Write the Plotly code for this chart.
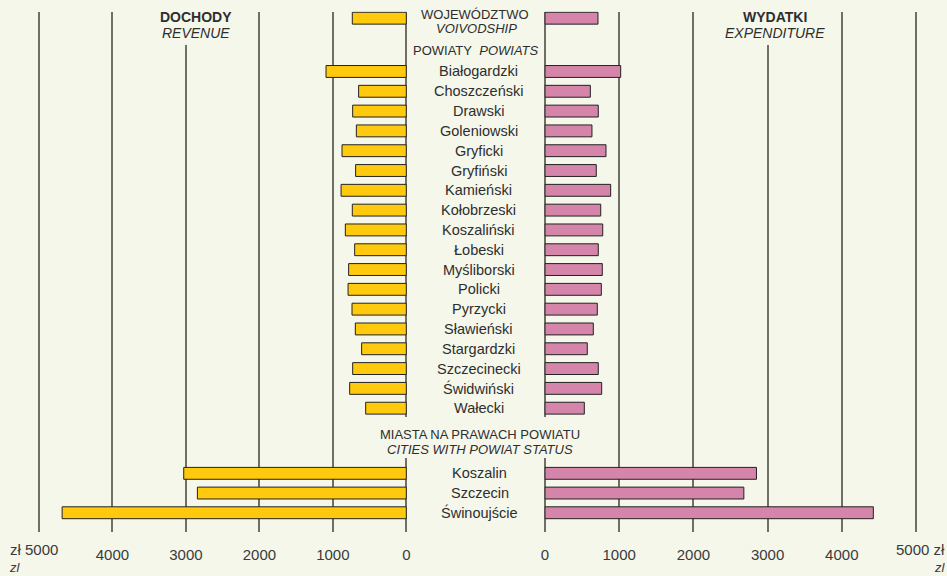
import plotly.graph_objects as go

# ---------------- data ----------------
voivodship_label = ("WOJEWÓDZTWO", "VOIVODSHIP")
voivodship_revenue = 735
voivodship_expenditure = 714

powiats = ["Białogardzki", "Choszczeński", "Drawski", "Goleniowski", "Gryficki",
           "Gryfiński", "Kamieński", "Kołobrzeski", "Koszaliński", "Łobeski",
           "Myśliborski", "Policki", "Pyrzycki", "Sławieński", "Stargardzki",
           "Szczecinecki", "Świdwiński", "Wałecki"]
powiat_revenue = [1093, 649, 730, 680, 875, 690, 888, 735, 830, 703,
                  785, 793, 739, 694, 608, 730, 771, 553]
powiat_expenditure = [1020, 611, 718, 633, 822, 691, 885, 751, 778, 718,
                      772, 759, 705, 651, 570, 718, 764, 530]

cities = ["Koszalin", "Szczecin", "Świnoujście"]
city_revenue = [3030, 2844, 4685]
city_expenditure = [2850, 2680, 4425]

tick_values = [0, 1000, 2000, 3000, 4000, 5000]
tick_text = ["0", "1000", "2000", "3000", "4000", ""]
left_end_label = "zł 5000"
right_end_label = "5000 zł"
unit_note = "zl"

# ---------------- layout helpers (row positions) ----------------
W, H = 947, 576
BG = "#f5f7eb"
GRID = "#6f6f68"
TXT = "#2e2e2e"
TICK_TXT = "#3a3a3a"
FONT = "Liberation Sans, Arial, sans-serif"

voi_pos = 0.0
powiat_header_pos = 1.61
powiat_start = 2.69
powiat_pos = [powiat_start + i for i in range(len(powiats))]
miasta_pos = (21.04, 21.80)
city_start = 22.98
city_pos = [city_start + 0.995 * j for j in range(len(cities))]

y_all = [voi_pos] + powiat_pos + city_pos
rev_all = [voivodship_revenue] + powiat_revenue + city_revenue
exp_all = [voivodship_expenditure] + powiat_expenditure + city_expenditure

# pixel geometry
left_zero_px, left_scale = 406.3, 0.07346   # px per unit
right_zero_px, right_scale = 545.0, 0.0742
pad = 8
left_range = [left_zero_px / left_scale, -pad]
left_domain = [0, (left_zero_px + pad * left_scale) / W]
right_range = [-pad, (W - right_zero_px) / right_scale]
right_domain = [(right_zero_px - pad * right_scale) / W, 1]

plot_top_px, plot_bot_px = 11.5, 531.5
row0_px, pitch = 18.2, 19.806
y_range = [(plot_bot_px - row0_px) / pitch, (plot_top_px - row0_px) / pitch]
y_domain = [1 - plot_bot_px / H, 1 - plot_top_px / H]

fig = go.Figure()
fig.add_trace(go.Bar(
    x=rev_all, y=y_all, orientation="h", width=0.6,
    marker=dict(color="#ffc90d", line=dict(color="#222222", width=1)),
    xaxis="x", yaxis="y", hoverinfo="x", showlegend=False))
fig.add_trace(go.Bar(
    x=exp_all, y=y_all, orientation="h", width=0.6,
    marker=dict(color="#d485a9", line=dict(color="#222222", width=1)),
    xaxis="x2", yaxis="y", hoverinfo="x", showlegend=False))

axis_common = dict(
    tickvals=tick_values, ticktext=tick_text, showgrid=True, gridcolor=GRID,
    gridwidth=1.5, zeroline=True, zerolinecolor=GRID, zerolinewidth=1.5,
    showline=False, ticks="outside", ticklen=9, tickcolor="rgba(0,0,0,0)",
    automargin=False,
    tickfont=dict(family=FONT, size=15, color=TICK_TXT), fixedrange=True)

fig.update_layout(
    width=W, height=H, margin=dict(l=0, r=0, t=0, b=0, autoexpand=False),
    paper_bgcolor=BG, plot_bgcolor=BG, barmode="overlay",
    xaxis=dict(domain=left_domain, range=left_range, anchor="y", **axis_common),
    xaxis2=dict(domain=right_domain, range=right_range, anchor="y", **axis_common),
    yaxis=dict(domain=y_domain, range=y_range, visible=False, fixedrange=True,
               automargin=False),
    font=dict(family=FONT, color=TXT),
)

# masks behind header texts (hide grid lines there)
mask_top = (45 - row0_px) / pitch
shapes = [
    dict(type="rect", xref="x", yref="y", x0=3620, x1=2380, y0=-2, y1=mask_top,
         fillcolor=BG, line=dict(width=0), layer="above"),
    dict(type="rect", xref="x2", yref="y", x0=2380, x1=3620, y0=-2, y1=mask_top,
         fillcolor=BG, line=dict(width=0), layer="above"),
    dict(type="rect", xref="paper", yref="y", x0=366 / W, x1=592 / W,
         y0=powiat_pos[-1] + 0.45, y1=22.2,
         fillcolor=BG, line=dict(width=0), layer="above"),
]
fig.update_layout(shapes=shapes)

ann = []


def add_text(text, xpx, y, size, italic=False, bold=False, yref="y"):
    t = text
    if bold:
        t = "<b>" + t + "</b>"
    if italic:
        t = "<i>" + t + "</i>"
    ann.append(dict(text=t, x=xpx / W, xref="paper", y=y, yref=yref,
                    xanchor="center", yanchor="middle", showarrow=False,
                    font=dict(family=FONT, size=size, color=TXT)))


for name, yp in zip(powiats, powiat_pos):
    add_text(name, 478.5, yp, 14.5)
for name, yp in zip(cities, city_pos):
    add_text(name, 479.5, yp, 14.5)

add_text(voivodship_label[0], 475, (14.5 - row0_px) / pitch, 13)
add_text(voivodship_label[1], 476.5, (28.3 - row0_px) / pitch, 13, italic=True)
add_text("POWIATY\u00a0\u00a0<i>POWIATS</i>", 476, powiat_header_pos, 13)
add_text("MIASTA NA PRAWACH POWIATU", 480, miasta_pos[0], 13)
add_text("CITIES WITH POWIAT STATUS", 480.3, miasta_pos[1], 13, italic=True)

add_text("DOCHODY", 196, (16.8 - row0_px) / pitch, 14, bold=True)
add_text("REVENUE", 196, (33.3 - row0_px) / pitch, 14, italic=True)
add_text("WYDATKI", 775, (16.8 - row0_px) / pitch, 14, bold=True)
add_text("EXPENDITURE", 775, (33.3 - row0_px) / pitch, 14, italic=True)

# end labels of the value axes with currency, unit note on a second line
for label, xp, anchor in ((left_end_label, 8, "left"),
                          (right_end_label, 946, "right")):
    ann.append(dict(
        text=("<span style='font-size:15px'>" + label + "</span><br>"
              "<i>" + unit_note + "</i>"),
        x=xp / W, xref="paper", y=0, yref="paper",
        xanchor=anchor, yanchor="bottom", align=anchor, showarrow=False,
        borderpad=0, font=dict(family=FONT, size=13, color=TICK_TXT)))

fig.update_layout(annotations=ann)
fig.write_html(
    "out.html",
    config={"displayModeBar": False},
    post_script=("document.body.style.margin='0';"
                 "document.body.style.padding='0';"
                 "document.body.style.overflow='hidden';"
                 "document.body.style.background='" + BG + "';"),
)
